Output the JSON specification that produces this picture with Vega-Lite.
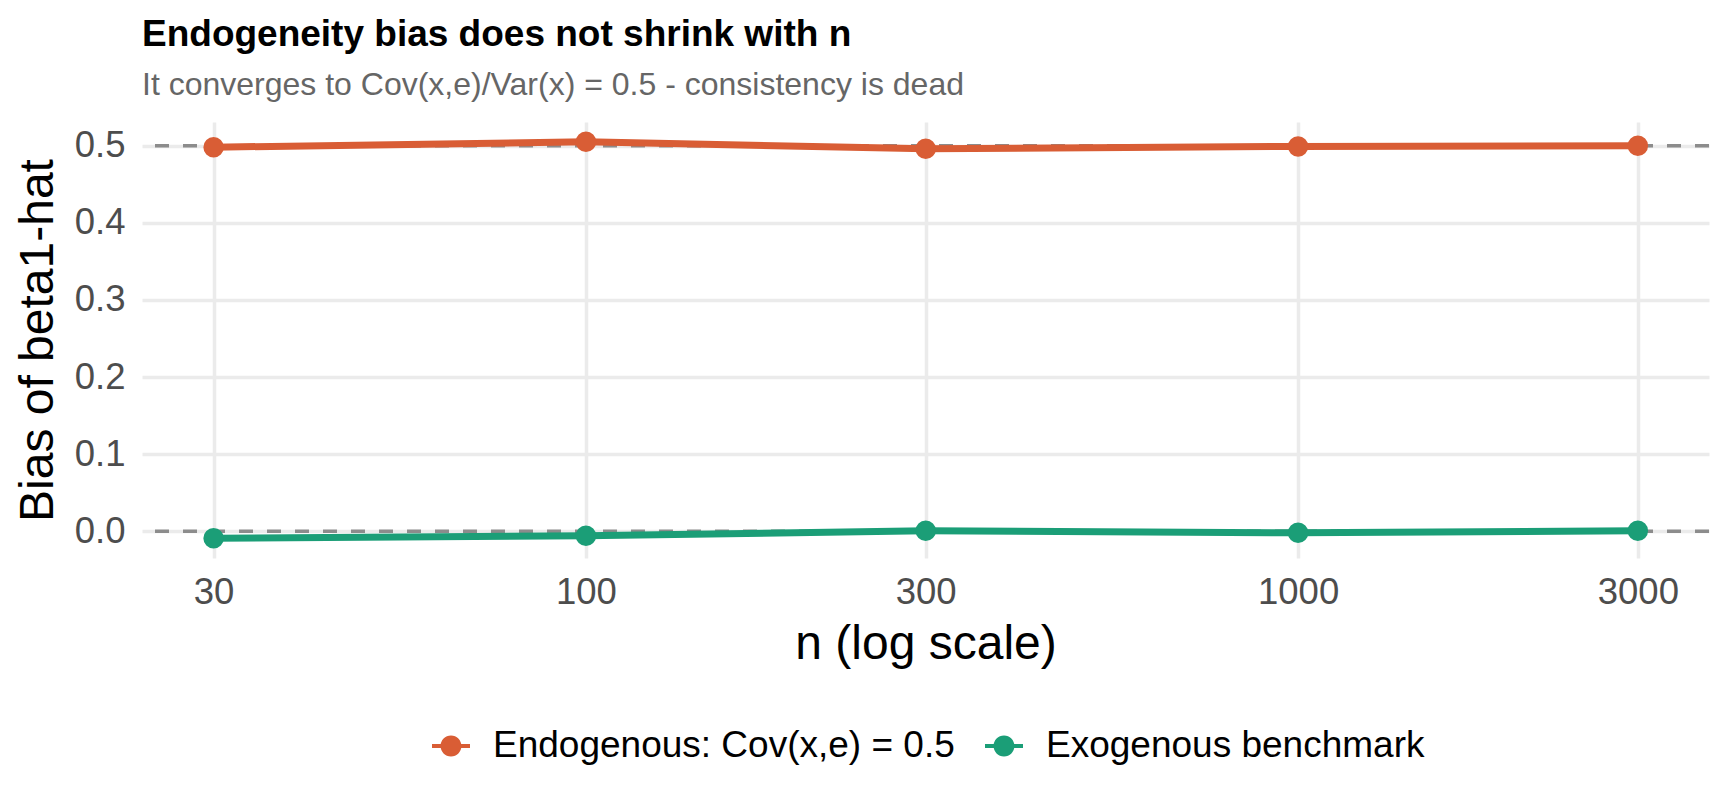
{
  "$schema": "https://vega.github.io/schema/vega-lite/v6.json",
  "autosize": {"type": "none"},
  "width": 1567,
  "height": 436,
  "padding": {"left": 142, "top": 122, "right": 19, "bottom": 248},
  "background": "white",
  "config": {
    "font": "Liberation Sans",
    "view": {"stroke": null},
    "axis": {
      "domain": false,
      "ticks": false,
      "gridColor": "#ebebeb",
      "gridWidth": 3.5,
      "labelColor": "#4d4d4d",
      "labelFontSize": 36.5,
      "titleFontSize": 48,
      "titleFontWeight": "normal",
      "titleColor": "black"
    },
    "legend": {
      "orient": "none",
      "direction": "horizontal",
      "legendX": 290,
      "legendY": 605,
      "title": null,
      "symbolType": "M-1,-0.1L1,-0.1L1,0.1L-1,0.1Z M0.55,0 A0.55,0.55 0 1 1 -0.55,0 A0.55,0.55 0 1 1 0.55,0Z",
      "symbolSize": 1444,
      "symbolStrokeWidth": 0,
      "labelFontSize": 37,
      "labelColor": "black",
      "labelLimit": 0,
      "labelOffset": 23,
      "columnPadding": 30
    }
  },
  "title": {
    "text": "Endogeneity bias does not shrink with n",
    "subtitle": "It converges to Cov(x,e)/Var(x) = 0.5 - consistency is dead",
    "anchor": "start",
    "frame": "group",
    "fontSize": 37,
    "fontWeight": "bold",
    "color": "black",
    "subtitleFontSize": 32,
    "subtitleColor": "#666666",
    "subtitlePadding": 16,
    "offset": 20
  },
  "datasets": {
    "bias": [
      {"series": "Endogenous: Cov(x,e) = 0.5", "n": 30, "bias": 0.498},
      {"series": "Endogenous: Cov(x,e) = 0.5", "n": 100, "bias": 0.505},
      {"series": "Endogenous: Cov(x,e) = 0.5", "n": 300, "bias": 0.496},
      {"series": "Endogenous: Cov(x,e) = 0.5", "n": 1000, "bias": 0.499},
      {"series": "Endogenous: Cov(x,e) = 0.5", "n": 3000, "bias": 0.5},
      {"series": "Exogenous benchmark", "n": 30, "bias": -0.009},
      {"series": "Exogenous benchmark", "n": 100, "bias": -0.006},
      {"series": "Exogenous benchmark", "n": 300, "bias": 0.0005},
      {"series": "Exogenous benchmark", "n": 1000, "bias": -0.002},
      {"series": "Exogenous benchmark", "n": 3000, "bias": 0.0005}
    ],
    "ref": [{"y": 0}, {"y": 0.5}]
  },
  "layer": [
    {
      "data": {"name": "ref"},
      "mark": {"type": "rule", "color": "#8c8c8c", "strokeWidth": 3.5, "strokeDash": [14, 14]},
      "encoding": {
        "y": {"field": "y", "type": "quantitative", "scale": {"domain": [-0.0347, 0.5307], "nice": false, "zero": false}}
      }
    },
    {
      "data": {"name": "bias"},
      "mark": {"type": "line", "strokeWidth": 7},
      "encoding": {
        "x": {
          "field": "n", "type": "quantitative",
          "scale": {"type": "log", "domain": [23.8, 3776], "nice": false},
          "axis": {"values": [30, 100, 300, 1000, 3000], "format": "d", "labelPadding": 16, "titlePadding": 10, "title": "n (log scale)"}
        },
        "y": {
          "field": "bias", "type": "quantitative",
          "scale": {"domain": [-0.0347, 0.5307], "nice": false, "zero": false},
          "axis": {"values": [0, 0.1, 0.2, 0.3, 0.4, 0.5], "format": ".1f", "labelPadding": 17, "titlePadding": 12, "title": "Bias of beta1-hat"}
        },
        "color": {
          "field": "series", "type": "nominal",
          "scale": {"domain": ["Endogenous: Cov(x,e) = 0.5", "Exogenous benchmark"], "range": ["#D95D35", "#1B9E77"]},
          "legend": {
            "encode": {
              "symbols": {"update": {"fill": {"scale": "color", "field": "value"}, "stroke": {"value": "transparent"}, "opacity": {"value": 1}}}
            }
          }
        }
      }
    },
    {
      "data": {"name": "bias"},
      "mark": {"type": "point", "filled": true, "size": 420, "opacity": 1},
      "encoding": {
        "x": {"field": "n", "type": "quantitative"},
        "y": {"field": "bias", "type": "quantitative"},
        "color": {"field": "series", "type": "nominal"}
      }
    }
  ]
}
